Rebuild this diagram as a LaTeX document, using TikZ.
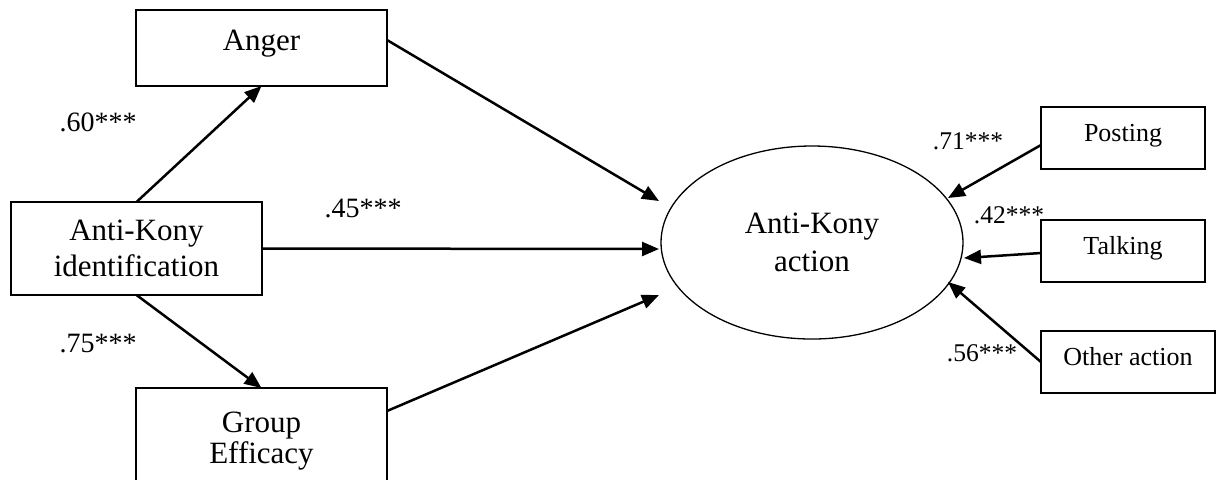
\documentclass[tikz,border=0pt]{standalone}
\usepackage{fontspec}
\setmainfont{Liberation Serif}
\usetikzlibrary{arrows.meta,shapes.geometric,calc}
\begin{document}
\begin{tikzpicture}[x=0.5pt,y=-0.5pt,
  box/.style={draw,line width=0.85pt,rectangle,inner sep=0pt,outer sep=0pt,align=center},
  bigtxt/.style={font=\fontsize{15.5}{18}\selectfont},
  smallbox/.style={box,font=\fontsize{13}{15}\selectfont,minimum height=31pt,text height=0.69em,text depth=0.305em},
  conn/.style={line width=1.25pt,-{Triangle[length=8.5pt,width=7pt]}},
  coef/.style={font=\fontsize{14}{16}\selectfont,inner sep=0pt},
  coefs/.style={font=\fontsize{12.75}{15}\selectfont,inner sep=0pt}
]
\useasboundingbox (0,0) rectangle (1221,479);
\fill[white] (0,0) rectangle (1221,479);
\clip (0,0) rectangle (1221,479);

% boxes
\node[box,bigtxt,minimum width=125.5pt,minimum height=38pt,text height=0.69em,text depth=0.43em] (anger) at (261.5,48) {Anger};
\node[box,bigtxt,minimum width=125.5pt,minimum height=46.5pt] (ident) at (136.5,248.5) {Anti-Kony\\identification};
\node[box,font=\fontsize{15.5}{15.5}\selectfont,minimum width=125.5pt,minimum height=53pt] (group) at (261.5,441) {Group\\Efficacy};
\node[draw,ellipse,line width=0.65pt,minimum width=151pt,minimum height=96.5pt,inner sep=0pt,outer sep=0pt,align=center,font=\fontsize{15.5}{19}\selectfont] (act) at (812,242.5) {Anti-Kony\\action};
\node[smallbox,minimum width=82pt] (post) at (1123,138) {Posting};
\node[smallbox,minimum width=82pt] (talk) at (1123,251) {Talking};
\node[smallbox,minimum width=87pt] (other) at (1128,362) {Other action};

% arrow ends on the ellipse
\coordinate (tA) at ($(act.center)+(-153,-41.5)$);
\coordinate (tI) at ($(act.center)+(-153,6.5)$);
\coordinate (tG) at ($(act.center)+(-153,52.5)$);
\coordinate (tP) at ($(act.center)+(136,-44.5)$);
\coordinate (tT) at ($(act.center)+(152,15.5)$);
\coordinate (tO) at ($(act.center)+(136,39.5)$);

% connectors
\draw[conn] (ident.north) -- (anger.south);
\draw[conn] (ident.south) -- (group.north);
\draw[conn] ($(anger.east)+(0,-8)$) -- (tA);
\draw[conn] (ident.east) -- (tI);
\draw[conn] ($(group.east)+(0,-30)$) -- (tG);
\draw[conn] ($(post.west)+(0,7)$) -- (tP);
\draw[conn] ($(talk.west)+(0,2)$) -- (tT);
\draw[conn] (other.west) -- (tO);

% coefficients
\node[coef] (l60) at (98,122) {.60***};
\node[coef] (l45) at (363,208) {.45***};
\node[coef] (l75) at (98,344) {.75***};
\node[coefs] (l71) at (968,141) {.71***};
\node[coefs] (l42) at (1009,215) {.42***};
\node[coefs] (l56) at (982,353) {.56***};
\end{tikzpicture}
\end{document}
